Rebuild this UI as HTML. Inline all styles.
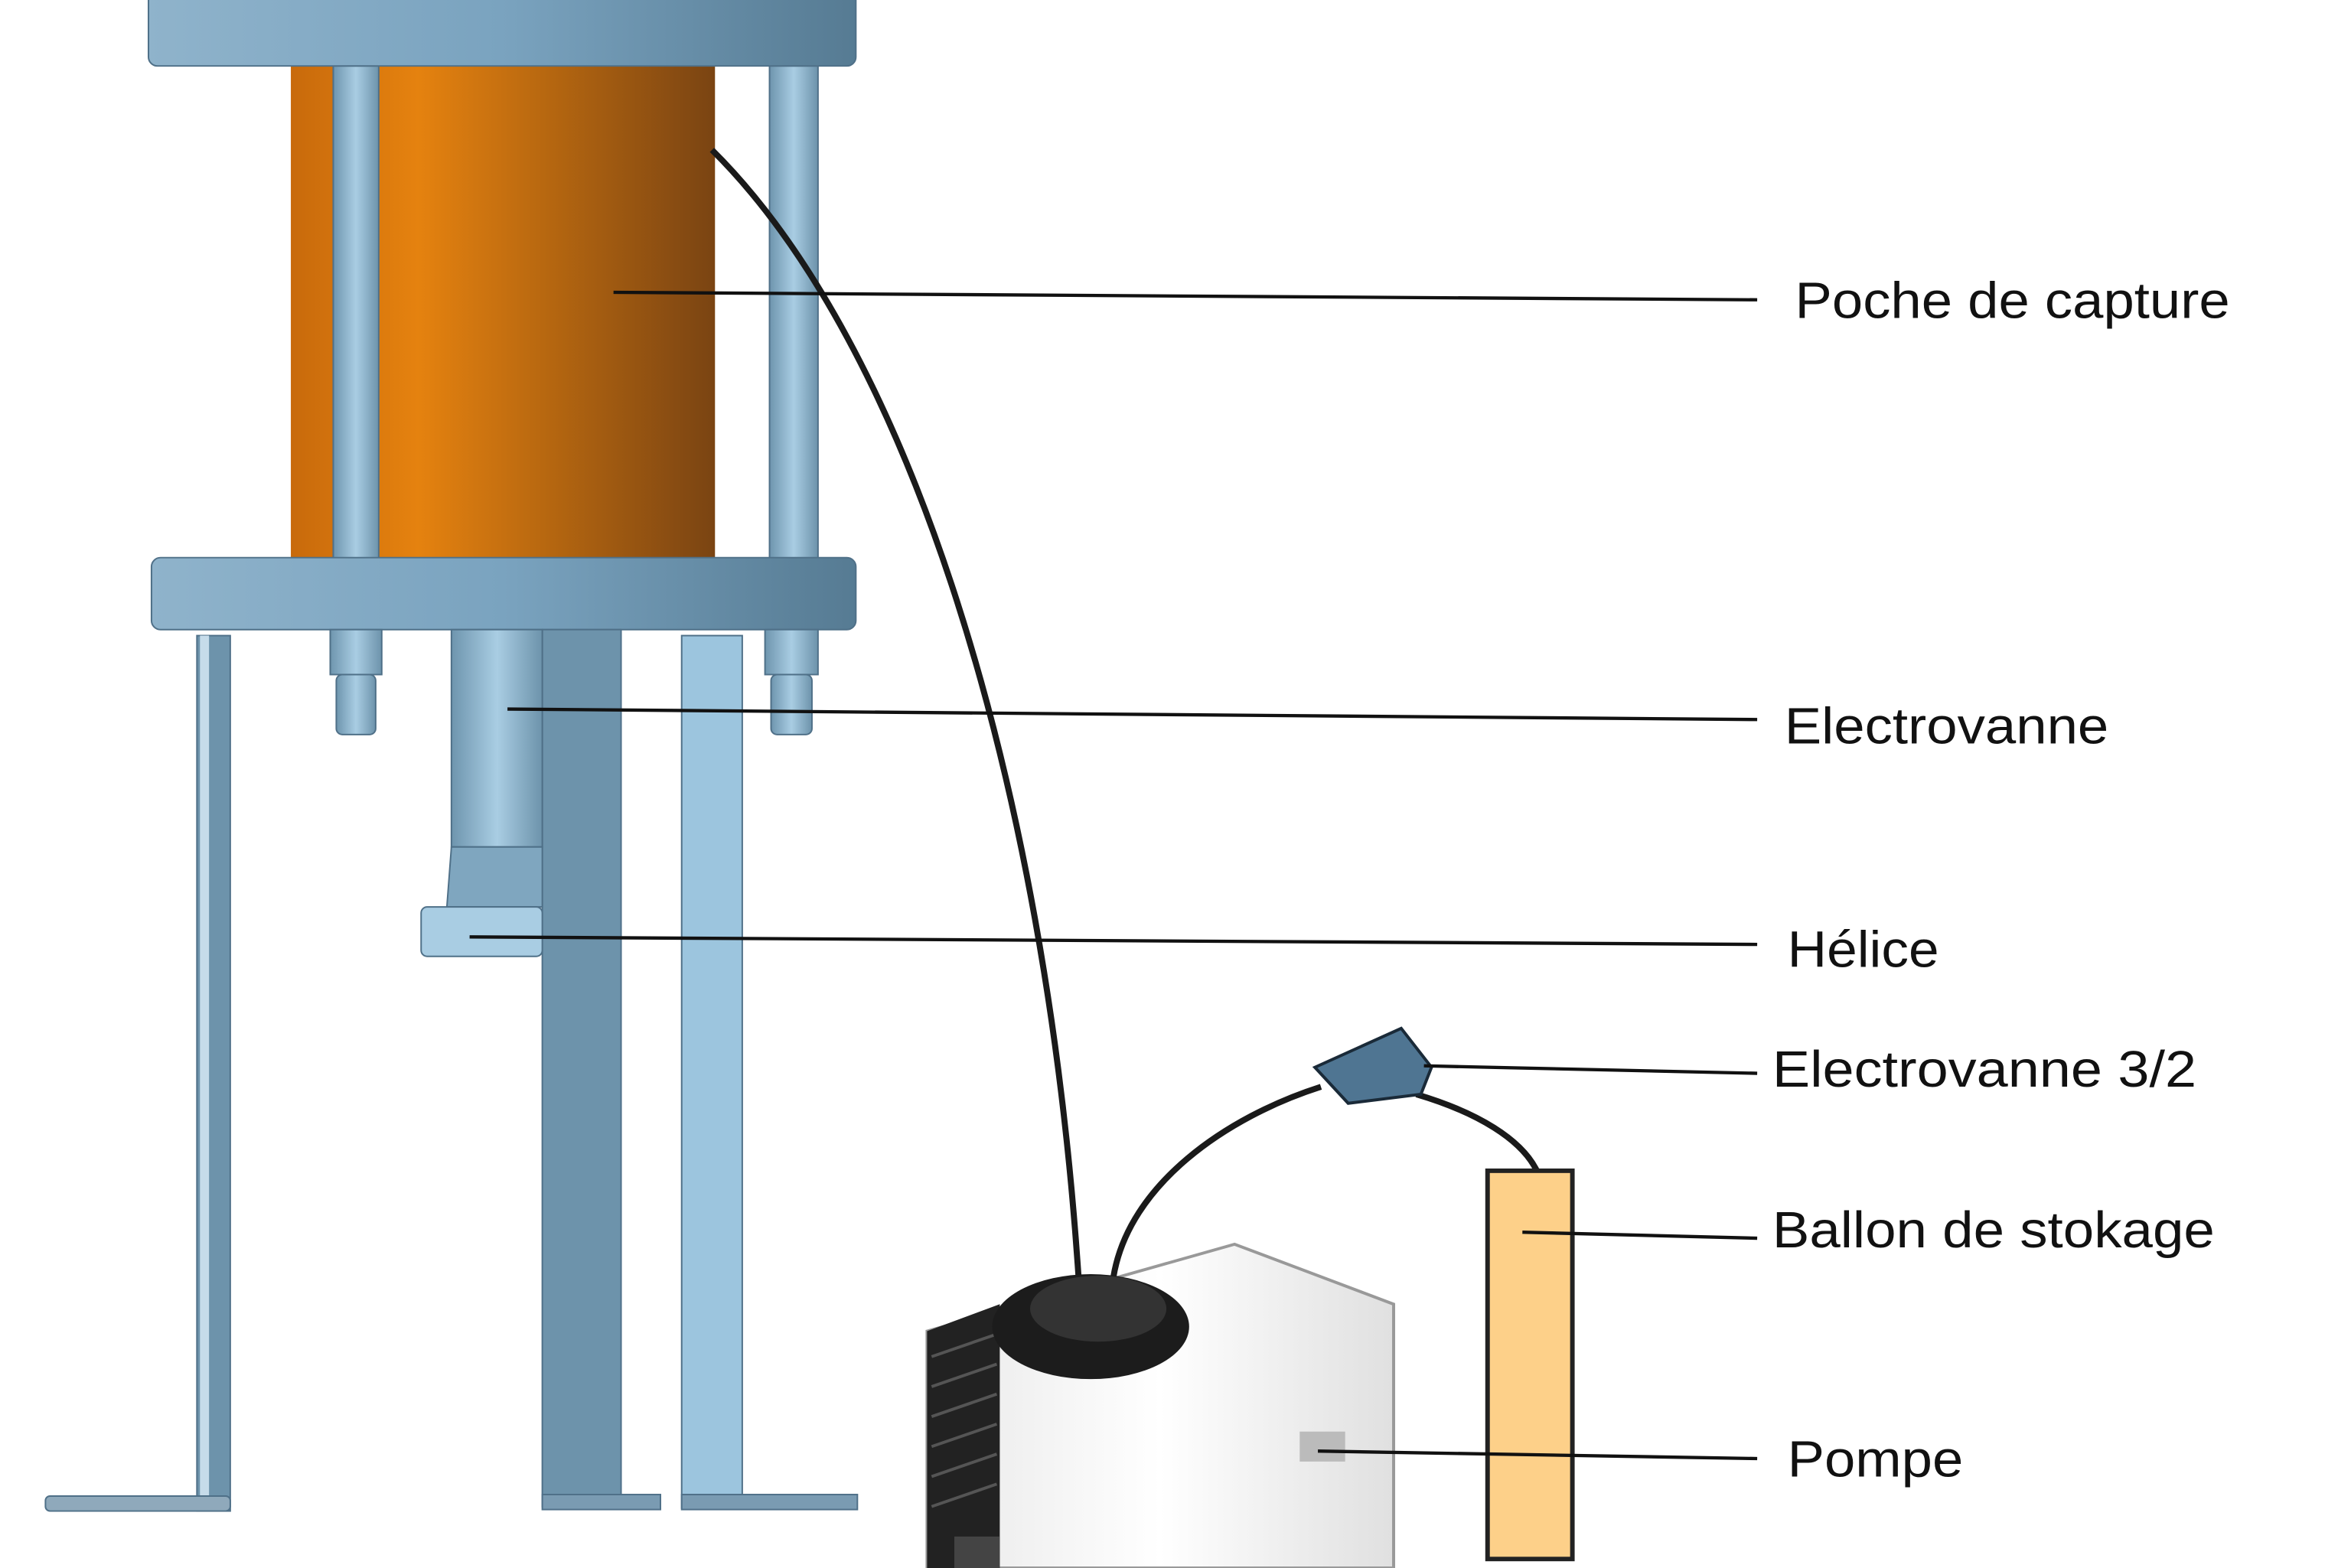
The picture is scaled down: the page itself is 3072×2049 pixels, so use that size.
<!DOCTYPE html>
<html><head><meta charset="utf-8"><style>
html,body{margin:0;padding:0;background:#fff;}
svg{display:block;}
text{font-family:"Liberation Sans",sans-serif;font-size:34px;fill:#111;}
</style></head><body>
<svg width="3072" height="2049" viewBox="0 0 1552 1046" preserveAspectRatio="none" xmlns="http://www.w3.org/2000/svg">
<defs>
<linearGradient id="or" x1="0" x2="1" y1="0" y2="0">
<stop offset="0" stop-color="#c86a0c"/><stop offset="0.3" stop-color="#e5820f"/><stop offset="1" stop-color="#7a4412"/></linearGradient>
<linearGradient id="pl" x1="0" x2="1"><stop offset="0" stop-color="#8fb3cb"/><stop offset="0.5" stop-color="#7aa3bf"/><stop offset="1" stop-color="#567b93"/></linearGradient>
<linearGradient id="rod" x1="0" x2="1"><stop offset="0" stop-color="#6e95ae"/><stop offset="0.5" stop-color="#a9cde3"/><stop offset="1" stop-color="#6d93ab"/></linearGradient>
<linearGradient id="box" x1="0" x2="1"><stop offset="0" stop-color="#e8e8e8"/><stop offset="0.5" stop-color="#fff"/><stop offset="1" stop-color="#e0e0e0"/></linearGradient>
</defs>
<rect width="1552" height="1046" fill="#fff"/>
<!-- cylinder -->
<rect x="192" y="44" width="280" height="330" fill="url(#or)"/>
<rect x="220" y="44" width="30" height="330" fill="url(#rod)" stroke="#4f7088" stroke-width="1"/>
<rect x="508" y="44" width="32" height="330" fill="url(#rod)" stroke="#4f7088" stroke-width="1"/>
<!-- plates -->
<rect x="98" y="-6" width="467" height="50" rx="6" fill="url(#pl)" stroke="#4f7088"/>
<rect x="100" y="372" width="465" height="48" rx="6" fill="url(#pl)" stroke="#4f7088"/>
<!-- bolts -->
<rect x="218" y="420" width="34" height="30" fill="url(#rod)" stroke="#4f7088"/>
<rect x="222" y="450" width="26" height="40" rx="4" fill="url(#rod)" stroke="#4f7088"/>
<rect x="505" y="420" width="35" height="30" fill="url(#rod)" stroke="#4f7088"/>
<rect x="509" y="450" width="27" height="40" rx="4" fill="url(#rod)" stroke="#4f7088"/>
<!-- legs -->
<rect x="130" y="424" width="22" height="584" fill="#6d93ab" stroke="#4f7088"/>
<rect x="132" y="424" width="6" height="584" fill="#c6dcea"/>
<rect x="30" y="998" width="122" height="10" rx="3" fill="#8fa9bb" stroke="#4f7088"/>
<rect x="358" y="420" width="52" height="585" fill="#6d93ab" stroke="#4f7088"/>
<rect x="358" y="997" width="78" height="10" fill="#7a9bb2" stroke="#4f7088"/>
<rect x="450" y="424" width="40" height="582" fill="#9cc5de" stroke="#4f7088"/>
<rect x="450" y="997" width="116" height="10" fill="#7a9bb2" stroke="#4f7088"/>
<!-- electrovanne -->
<rect x="298" y="420" width="60" height="145" fill="url(#rod)" stroke="#4f7088"/>
<polygon points="298,565 358,565 358,605 295,605" fill="#7fa6bf" stroke="#4f7088"/>
<rect x="278" y="605" width="80" height="33" rx="4" fill="#a9cde3" stroke="#4f7088"/>
<!-- cables -->
<path d="M470,100 C600,230 690,520 712,852" fill="none" stroke="#1a1a1a" stroke-width="4"/>
<path d="M735,852 C745,790 810,745 872,725" fill="none" stroke="#1a1a1a" stroke-width="4"/>
<path d="M935,730 C975,742 1005,760 1015,782" fill="none" stroke="#1a1a1a" stroke-width="4"/>
<!-- valve 3/2 -->
<polygon points="868,712 925,686 945,712 938,730 890,736" fill="#4f7592" stroke="#1a2a38" stroke-width="2"/>
<!-- pump -->
<polygon points="612,888 815,830 920,870 920,1046 612,1046" fill="url(#box)" stroke="#999" stroke-width="2"/>
<polygon points="612,888 660,870 660,1046 612,1046" fill="#222"/>
<g stroke="#555" stroke-width="2">
<line x1="615" y1="905" x2="658" y2="890"/><line x1="615" y1="925" x2="658" y2="910"/><line x1="615" y1="945" x2="658" y2="930"/><line x1="615" y1="965" x2="658" y2="950"/><line x1="615" y1="985" x2="658" y2="970"/><line x1="615" y1="1005" x2="658" y2="990"/>
</g>
<ellipse cx="720" cy="885" rx="65" ry="35" fill="#1c1c1c"/>
<ellipse cx="725" cy="873" rx="45" ry="22" fill="#333"/>
<rect x="858" y="955" width="30" height="20" fill="#bbb"/>
<rect x="630" y="1025" width="30" height="21" fill="#444"/>
<!-- balloon -->
<rect x="982" y="781" width="56" height="259" fill="#fdd089" stroke="#222" stroke-width="3"/>
<!-- leaders -->
<g stroke="#111" stroke-width="2.2" fill="none">
<line x1="405" y1="195" x2="1160" y2="200"/>
<line x1="335" y1="473" x2="1160" y2="480"/>
<line x1="310" y1="625" x2="1160" y2="630"/>
<line x1="940" y1="711" x2="1160" y2="716"/>
<line x1="1005" y1="822" x2="1160" y2="826"/>
<line x1="870" y1="968" x2="1160" y2="973"/>
</g>
<text x="1185" y="212" textLength="287" lengthAdjust="spacingAndGlyphs">Poche de capture</text>
<text x="1178" y="496" textLength="214" lengthAdjust="spacingAndGlyphs">Electrovanne</text>
<text x="1180" y="645" textLength="100" lengthAdjust="spacingAndGlyphs">Hélice</text>
<text x="1170" y="725" textLength="280" lengthAdjust="spacingAndGlyphs">Electrovanne 3/2</text>
<text x="1170" y="832" textLength="292" lengthAdjust="spacingAndGlyphs">Ballon de stokage</text>
<text x="1180" y="985" textLength="116" lengthAdjust="spacingAndGlyphs">Pompe</text>
</svg>
</body></html>
